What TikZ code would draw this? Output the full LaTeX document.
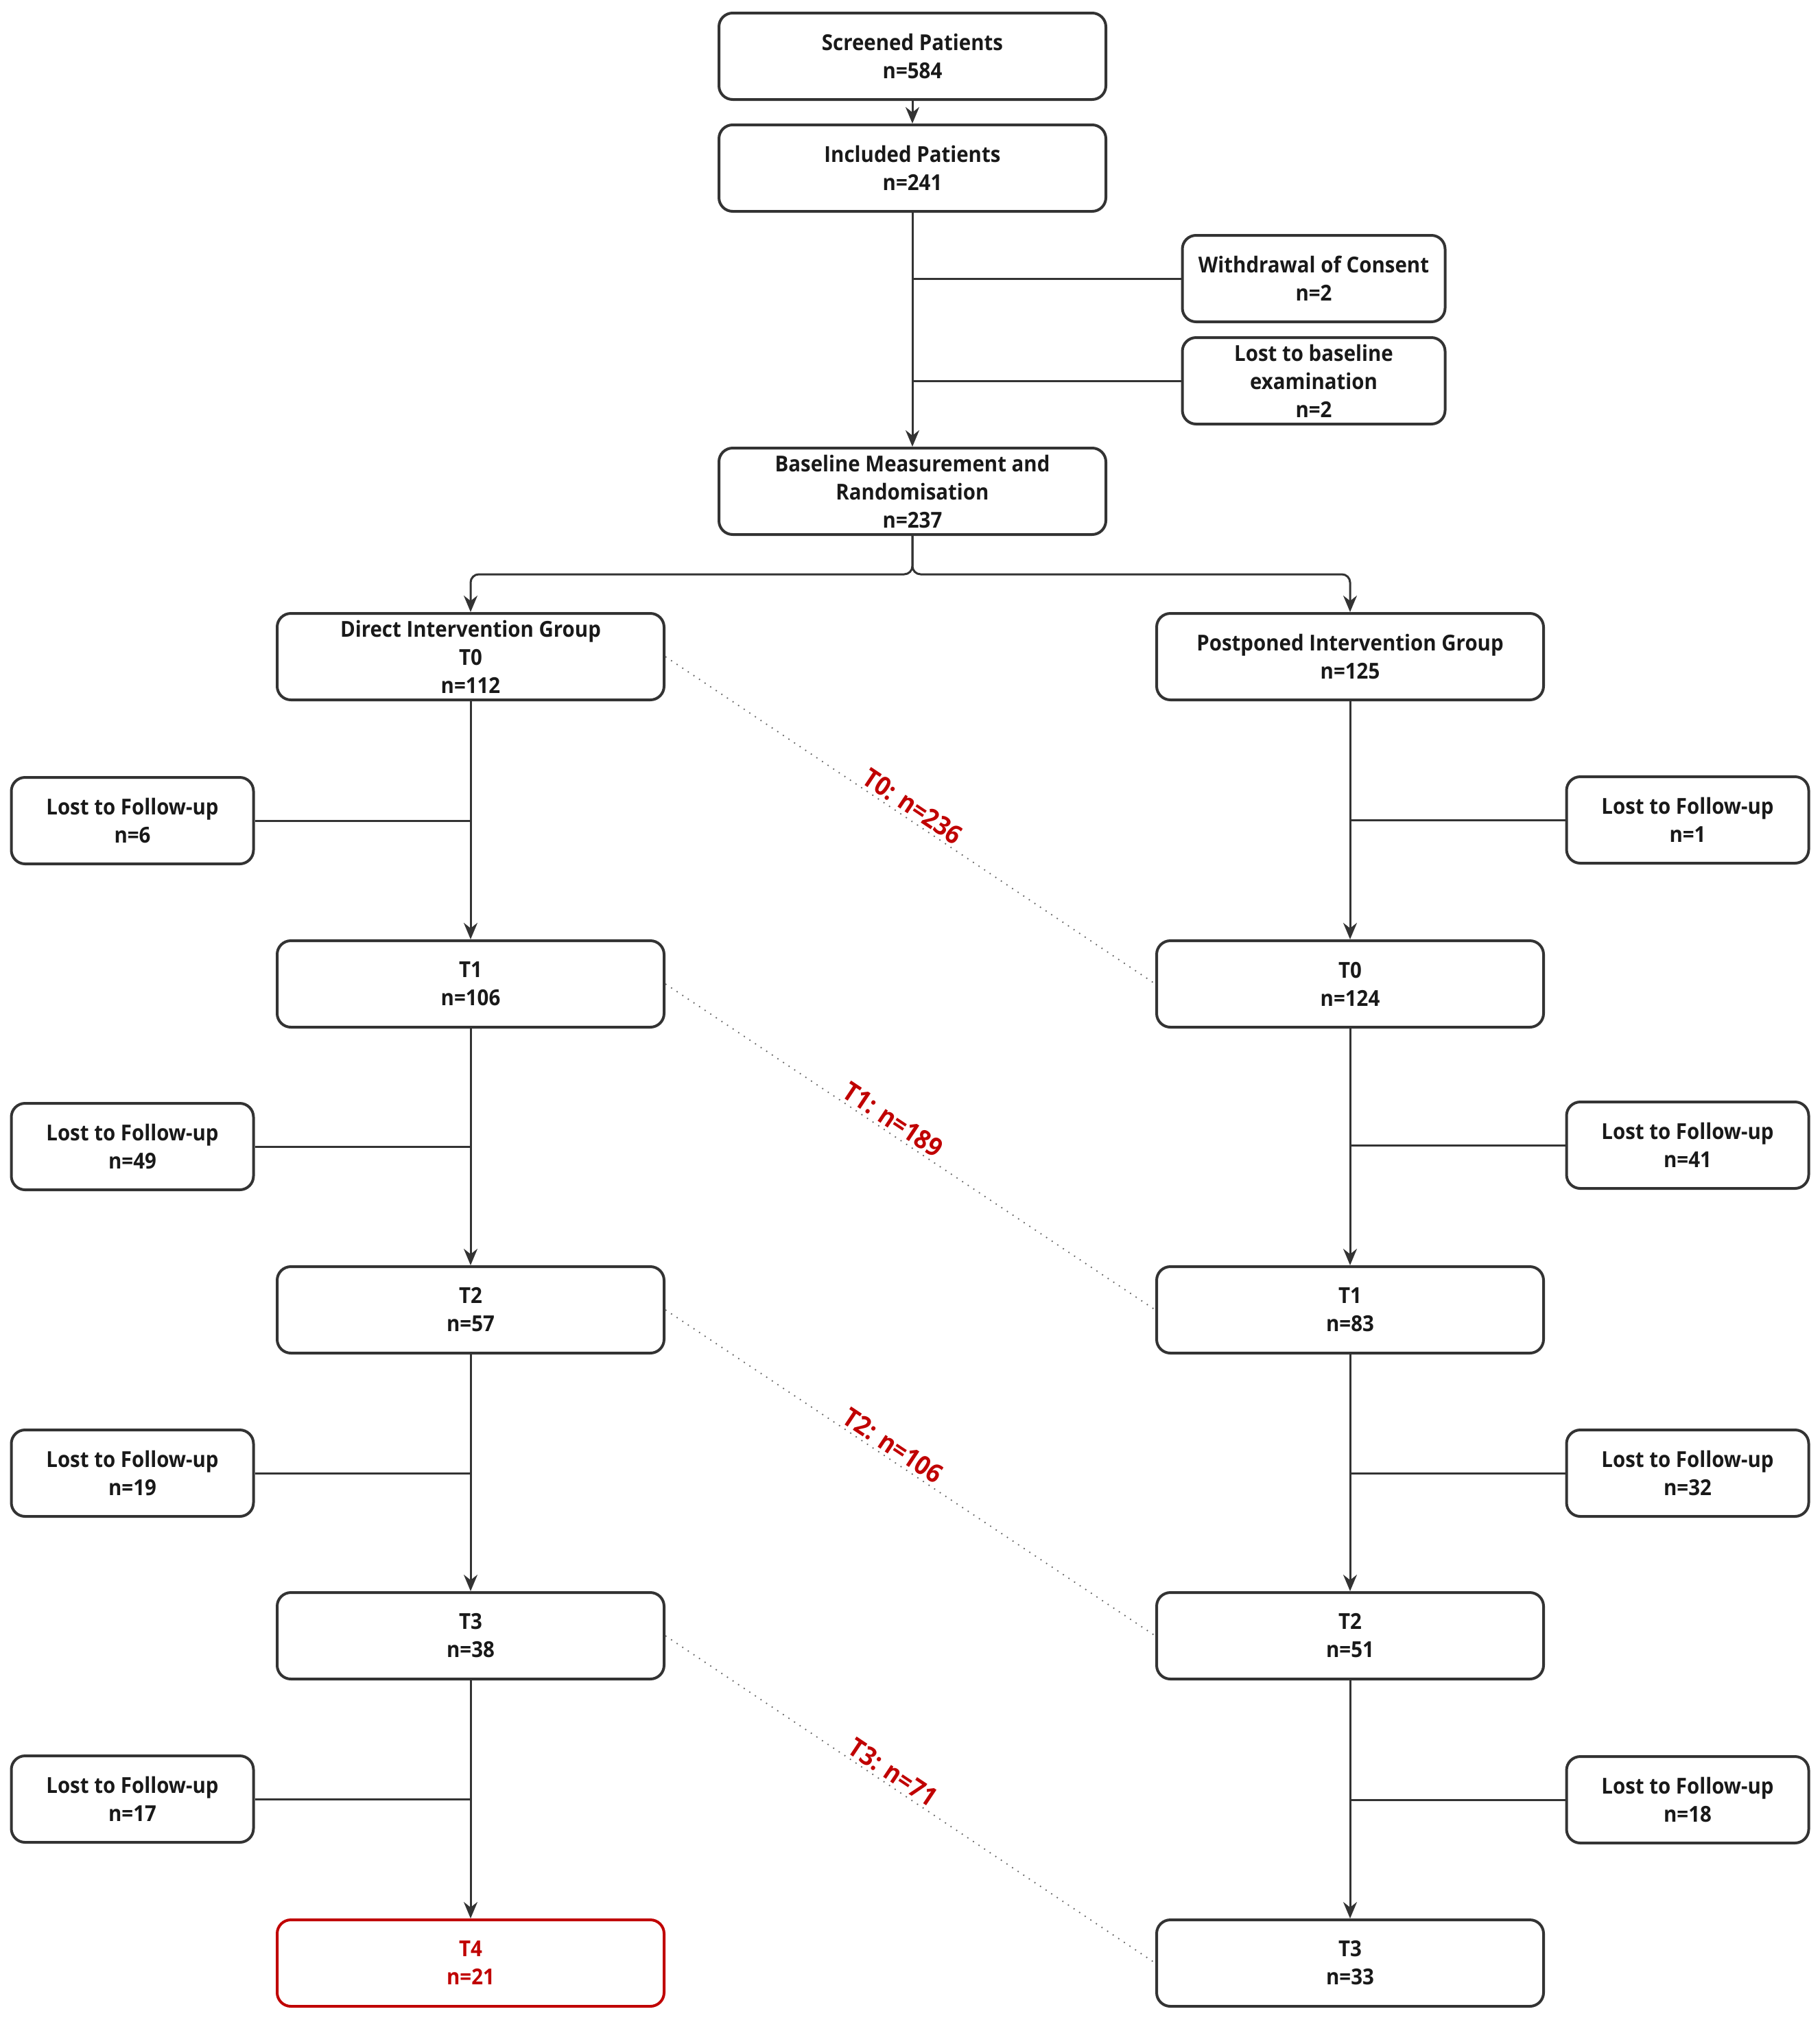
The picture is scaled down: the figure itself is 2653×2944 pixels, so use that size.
\documentclass[tikz,border=0pt]{standalone}
\usepackage{fontspec}
\setmainfont{Open Sans}[FakeStretch=0.92]
\usetikzlibrary{arrows.meta}
\definecolor{lc}{HTML}{333333}
\definecolor{rd}{HTML}{C00000}
\begin{document}
\begin{tikzpicture}[x=0.25pt,y=-0.25pt,
 box/.style={draw=lc,line width=1pt,rounded corners=5pt,fill=white,align=center,font=\bfseries\fontsize{8}{10.25}\selectfont,minimum width=141pt,minimum height=31.5pt,inner sep=0pt,text=black!90},
 lbox/.style={box,minimum width=88.25pt},
 wbox/.style={box,minimum width=95.75pt},
 redbox/.style={box,draw=rd,text=rd},
 arr/.style={draw=lc,line width=0.75pt,-{Stealth[length=6pt,width=5pt]}},
 ln/.style={draw=lc,line width=0.75pt},
 dotln/.style={draw=gray!80!black,line width=0.45pt,dotted},
 lab/.style={sloped,above,text=rd,font=\bfseries\fontsize{9.5}{11}\selectfont,inner sep=1pt}]
\useasboundingbox (0,0) rectangle (2653,2944);
% top
\node[box] (scr) at (1330,82) {Screened Patients\\n=584};
\node[box] (inc) at (1330,245) {Included Patients\\n=241};
\node[wbox] (wd) at (1915,406) {Withdrawal of Consent\\n=2};
\node[wbox] (lb) at (1915,555) {Lost to baseline\\examination\\n=2};
\node[box] (bas) at (1330,716) {Baseline Measurement and\\Randomisation\\n=237};
% left column
\node[box] (d0) at (686,957) {Direct Intervention Group\\T0\\n=112};
\node[box] (d1) at (686,1434) {T1\\n=106};
\node[box] (d2) at (686,1909) {T2\\n=57};
\node[box] (d3) at (686,2384) {T3\\n=38};
\node[redbox] (d4) at (686,2861) {T4\\n=21};
% right column
\node[box] (p0) at (1968,957) {Postponed Intervention Group\\n=125};
\node[box] (p1) at (1968,1434) {T0\\n=124};
\node[box] (p2) at (1968,1909) {T1\\n=83};
\node[box] (p3) at (1968,2384) {T2\\n=51};
\node[box] (p4) at (1968,2861) {T3\\n=33};
% lost boxes
\node[lbox] (ll1) at (193,1196) {Lost to Follow-up\\n=6};
\node[lbox] (ll2) at (193,1671) {Lost to Follow-up\\n=49};
\node[lbox] (ll3) at (193,2147) {Lost to Follow-up\\n=19};
\node[lbox] (ll4) at (193,2622) {Lost to Follow-up\\n=17};
\node[lbox] (rl1) at (2460,1195) {Lost to Follow-up\\n=1};
\node[lbox] (rl2) at (2460,1669) {Lost to Follow-up\\n=41};
\node[lbox] (rl3) at (2460,2147) {Lost to Follow-up\\n=32};
\node[lbox] (rl4) at (2460,2623) {Lost to Follow-up\\n=18};
% top connectors
\draw[arr] (scr) -- (inc);
\draw[arr] (inc) -- (bas);
\draw[ln] (wd.west) -- (wd.west -| inc);
\draw[ln] (lb.west) -- (lb.west -| inc);
\coordinate (split) at (1330,837);
\draw[arr,rounded corners=3pt] (bas.south) -- (split) -| (d0.north);
\draw[arr,rounded corners=3pt] (bas.south) -- (split) -| (p0.north);
% vertical arrows
\foreach \a/\b in {d0/d1,d1/d2,d2/d3,d3/d4,p0/p1,p1/p2,p2/p3,p3/p4}{\draw[arr] (\a) -- (\b);}
% branches
\foreach \l/\c in {ll1/d0,ll2/d0,ll3/d0,ll4/d0}{\draw[ln] (\l.east) -- (\l.east -| \c);}
\foreach \l/\c in {rl1/p0,rl2/p0,rl3/p0,rl4/p0}{\draw[ln] (\l.west) -- (\l.west -| \c);}
% dotted cross lines
\draw[dotln] (d0.east) -- node[lab,pos=0.49] {T0: n=236} (p1.west);
\draw[dotln] (d1.east) -- node[lab,pos=0.45] {T1: n=189} (p2.west);
\draw[dotln] (d2.east) -- node[lab,pos=0.45] {T2: n=106} (p3.west);
\draw[dotln] (d3.east) -- node[lab,pos=0.45] {T3: n=71} (p4.west);
\end{tikzpicture}
\end{document}
